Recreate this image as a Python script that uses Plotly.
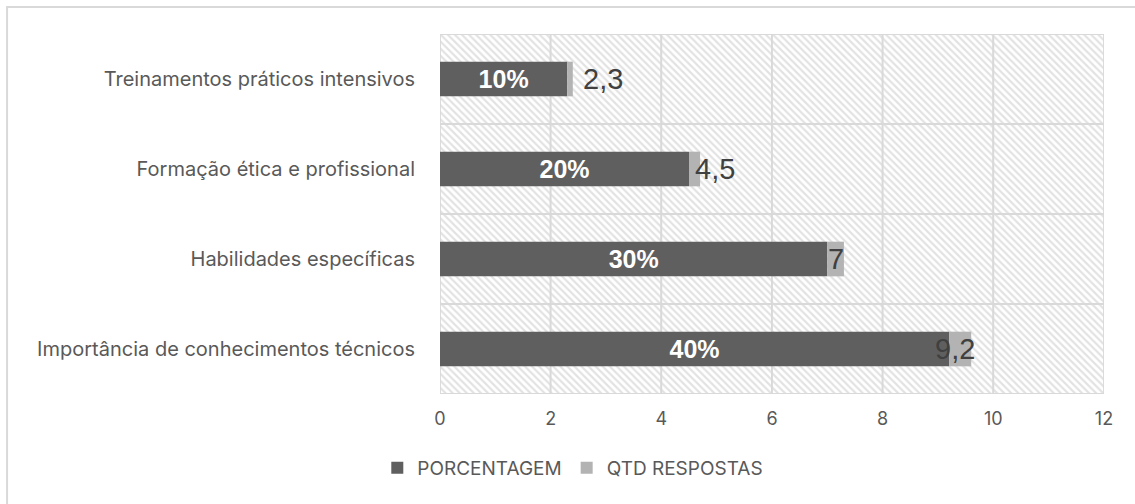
import plotly.graph_objects as go

# categories listed bottom -> top (plotly draws first category at the bottom)
categorias = [
    "Importância de conhecimentos técnicos",
    "Habilidades específicas",
    "Formação ética e profissional",
    "Treinamentos práticos intensivos",
]
porcentagem = [9.2, 7, 4.5, 2.3]
porcentagem_txt = ["40%", "30%", "20%", "10%"]
qtd_respostas = [0.4, 0.3, 0.2, 0.1]
qtd_txt = ["9,2", "7", "4,5", "2,3"]
x_ticks = [0, 2, 4, 6, 8, 10, 12]

DARK = "#5f5f5f"
LIGHT = "#b3b3b3"
GRID = "#d9d9d9"
TXT = "#595959"

fig = go.Figure()

# hatched plot background, one cell per grid step and category
cell_y, cell_base, cell_w = [], [], []
for i in range(len(x_ticks) - 1):
    for c in categorias:
        cell_y.append(c)
        cell_base.append(x_ticks[i])
        cell_w.append(x_ticks[i + 1] - x_ticks[i])
fig.add_trace(go.Bar(
    y=cell_y, x=cell_w, base=cell_base, orientation="h", width=1,
    marker=dict(color="white", line=dict(color=GRID, width=1.8),
                pattern=dict(shape="\\", fgcolor="#c6c6c6", bgcolor="white",
                             size=5, solidity=0.45)),
    showlegend=False, hoverinfo="skip",
))

fig.add_trace(go.Bar(
    name="PORCENTAGEM", y=categorias, x=porcentagem, orientation="h",
    width=0.385, marker=dict(color=DARK, line=dict(width=0)),
    text=porcentagem_txt, textposition="inside", insidetextanchor="middle",
    textfont=dict(family="Liberation Sans, Arial", size=25, color="white", weight="bold"),
))
fig.add_trace(go.Bar(
    name="QTD RESPOSTAS", y=categorias, x=qtd_respostas, base=porcentagem,
    orientation="h", width=0.385, marker=dict(color=LIGHT, line=dict(width=0)),
))

# value labels of the second series
shifts = [-5, 0, 20, 33]
for c, p, q, t, s in zip(categorias, porcentagem, qtd_respostas, qtd_txt, shifts):
    fig.add_annotation(x=p + q / 2, y=c, text=t, showarrow=False, xanchor="center",
                       xshift=s, font=dict(family="Liberation Sans, Arial", size=29, color="#404040"))

# outer chart border (only top/left visible in the frame)
fig.add_shape(type="rect", xref="paper", yref="paper",
              x0=-0.652, x1=1.3, y0=-0.6, y1=1.075,
              line=dict(color=GRID, width=2), layer="below")

fig.update_layout(
    width=1135, height=504,
    barmode="overlay",
    margin=dict(l=440, r=31, t=34, b=110),
    plot_bgcolor="white", paper_bgcolor="white",
    font=dict(family="Inter, Roboto, sans-serif", color=TXT, size=18),
    legend=dict(orientation="h", x=0.2, xanchor="center", y=-0.205, yanchor="middle",
                font=dict(size=19, color=TXT), traceorder="normal"),
    xaxis=dict(range=[0, 12], tickvals=x_ticks, showgrid=False, zeroline=False,
               showline=False, ticks="", tickfont=dict(size=18, color=TXT),
               ticklabelstandoff=12),
    yaxis=dict(range=[-0.5, 3.5], showgrid=False, zeroline=False, showline=False,
               ticks="", tickfont=dict(size=20, color=TXT), ticklabelstandoff=24),
)

fig.write_html("out.html", config={"displayModeBar": False},
               post_script="document.body.style.margin='0';")
